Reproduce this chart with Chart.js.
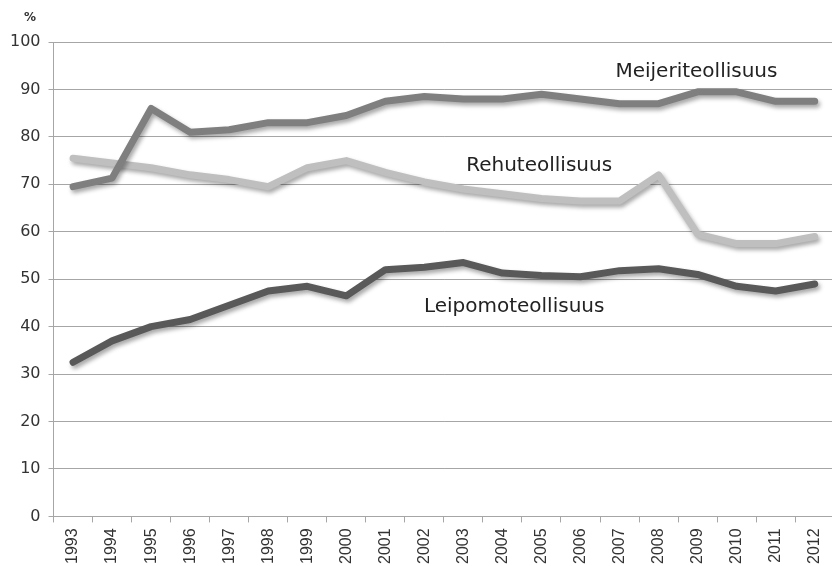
<!DOCTYPE html>
<html>
<head>
<meta charset="utf-8">
<script src="https://cdn.jsdelivr.net/npm/chart.js@4.4.0/dist/chart.umd.min.js"></script>
<style>
    html, body { margin: 0; padding: 0; background: #fff; overflow: hidden; }
    #wrap { width: 840px; height: 570px; position: relative; }
</style>
</head>
<body>
<div id="wrap"><canvas id="chart"></canvas></div>
<script>
// Years on the x axis
const years = ['1993', '1994', '1995', '1996', '1997', '1998', '1999', '2000', '2001', '2002',
    '2003', '2004', '2005', '2006', '2007', '2008', '2009', '2010', '2011', '2012'];

// Shares in %
const meijeri = [69.5, 71.3, 86, 81, 81.5, 83, 83, 84.5, 87.5, 88.5,
    88, 88, 89, 88, 87, 87, 89.5, 89.5, 87.5, 87.5];
const rehu = [75.5, 74.5, 73.5, 72, 71, 69.5, 73.5, 75, 72.5, 70.5,
    69, 68, 67, 66.5, 66.5, 72, 59.5, 57.5, 57.5, 59];
const leipomo = [32.5, 37, 40, 41.5, 44.5, 47.5, 48.5, 46.5, 52, 52.5,
    53.5, 51.3, 50.8, 50.5, 51.8, 52.2, 51, 48.5, 47.5, 49];

// Series names, shown as text inside the plot (index on x, value on y)
const seriesNames = ['Meijeriteollisuus', 'Rehuteollisuus', 'Leipomoteollisuus'];
const namePosX = [15.97, 11.94, 11.3];
const namePosY = [93.7, 74, 44.2];

// Soft drop shadow under each line
const shadowPlugin = {
    id: 'lineShadow',
    beforeDatasetDraw(chart) {
        const ctx = chart.ctx;
        ctx.save();
        ctx.shadowColor = 'rgba(0, 0, 0, 0.35)';
        ctx.shadowBlur = 4;
        ctx.shadowOffsetX = 2;
        ctx.shadowOffsetY = 3;
    },
    afterDatasetDraw(chart) {
        chart.ctx.restore();
    }
};

// Series names and the % unit
const labelsPlugin = {
    id: 'seriesLabels',
    afterDatasetsDraw(chart) {
        const ctx = chart.ctx;
        const x = chart.scales.x;
        const y = chart.scales.y;
        ctx.save();
        ctx.fillStyle = '#222';
        ctx.font = '20px "DejaVu Sans"';
        ctx.textAlign = 'center';
        ctx.textBaseline = 'middle';
        seriesNames.forEach((name, i) => {
            ctx.fillText(name, x.getPixelForValue(namePosX[i]), y.getPixelForValue(namePosY[i]));
        });
        ctx.font = 'bold 12px "DejaVu Sans"';
        ctx.fillStyle = '#333';
        ctx.fillText('%', 30, 18);
        ctx.restore();
    }
};

const lineStyle = {
    borderWidth: 7,
    pointRadius: 0,
    tension: 0,
    fill: false,
    borderJoinStyle: 'round',
    borderCapStyle: 'round'
};

new Chart(document.getElementById('chart'), {
    type: 'line',
    data: {
        labels: years,
        datasets: [
            { label: seriesNames[0], data: meijeri, borderColor: '#7f7f7f', ...lineStyle },
            { label: seriesNames[1], data: rehu, borderColor: '#bfbfbf', ...lineStyle },
            { label: seriesNames[2], data: leipomo, borderColor: '#595959', ...lineStyle }
        ]
    },
    options: {
        responsive: true,
        maintainAspectRatio: false,
        animation: false,
        layout: { padding: { top: 42, right: 3, left: 2, bottom: 0 } },
        plugins: {
            legend: { display: false },
            tooltip: { enabled: false }
        },
        scales: {
            x: {
                offset: true,
                grid: {
                    display: true,
                    drawOnChartArea: false,
                    offset: true,
                    color: '#a6a6a6',
                    tickLength: 6
                },
                border: { color: '#a6a6a6', width: 1 },
                ticks: {
                    color: '#333',
                    font: { family: 'Liberation Sans', size: 16 },
                    maxRotation: 90,
                    minRotation: 90,
                    autoSkip: false,
                    padding: 6
                }
            },
            y: {
                min: 0,
                max: 100,
                ticks: {
                    stepSize: 10,
                    color: '#333',
                    font: { family: 'DejaVu Sans', size: 16 },
                    padding: 8
                },
                grid: {
                    color: '#a6a6a6',
                    tickLength: 5
                },
                border: { color: '#a6a6a6', width: 1 }
            }
        }
    },
    plugins: [shadowPlugin, labelsPlugin]
});
</script>
</body>
</html>
